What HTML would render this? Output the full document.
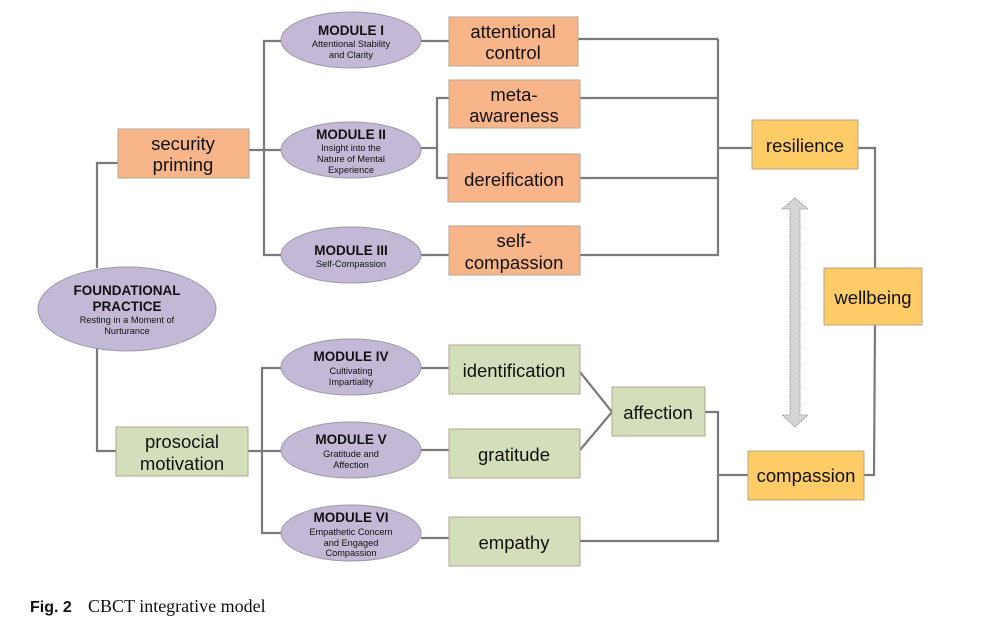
<!DOCTYPE html>
<html><head><meta charset="utf-8"><style>
html,body{margin:0;padding:0;background:#fff;width:1004px;height:628px;overflow:hidden}
svg{display:block}
.t{font-family:"Liberation Sans","DejaVu Sans",sans-serif;fill:#111;text-anchor:middle}
.b{font-size:18.5px}
.mh{font-size:13.5px;font-weight:bold}
.ms{font-size:9.2px}
</style></head><body>
<svg width="1004" height="628" viewBox="0 0 1004 628" xmlns="http://www.w3.org/2000/svg">
<g stroke="#7a7a7a" stroke-width="2.2" fill="none">
<polyline points="97,268 97,163 118,163"/>
<polyline points="97,348 97,451 116,451"/>
<line x1="249" y1="150" x2="282" y2="150"/>
<polyline points="282,41 264,41 264,255 281,255"/>
<line x1="421" y1="41" x2="449" y2="41"/>
<line x1="421" y1="148" x2="437" y2="148"/>
<polyline points="449,98 437,98 437,178 448,178"/>
<line x1="421" y1="255" x2="449" y2="255"/>
<line x1="578" y1="39" x2="718" y2="39"/>
<line x1="580" y1="98" x2="718" y2="98"/>
<line x1="580" y1="178" x2="718" y2="178"/>
<polyline points="580,255 718,255 718,39"/>
<line x1="718" y1="148" x2="752" y2="148"/>
<polyline points="858,148 875,148 875,268"/>
<polyline points="875,325 874,475 864,475"/>
<line x1="248" y1="451" x2="282" y2="451"/>
<polyline points="282,368 262,368 262,533 282,533"/>
<line x1="421" y1="368" x2="449" y2="368"/>
<line x1="421" y1="450" x2="449" y2="450"/>
<line x1="421" y1="538" x2="449" y2="538"/>
<polyline points="580,372 612,412 580,450"/>
<polyline points="705,412 718,412 718,541 580,541"/>
<line x1="718" y1="475" x2="748" y2="475"/>
</g>
<polygon points="795,198 808,209 800,209 800,415 808,415 795,427 782,415 790,415 790,209 782,209" fill="#d4d4d4" stroke="#999" stroke-width="1" stroke-dasharray="1.5,1"/>
<g fill="#c3b9d6" stroke="#9d97ab" stroke-width="1">
<ellipse cx="127" cy="309" rx="89" ry="42"/>
<ellipse cx="351" cy="40" rx="70" ry="28"/>
<ellipse cx="351" cy="150" rx="70" ry="28"/>
<ellipse cx="351" cy="255" rx="70" ry="28"/>
<ellipse cx="351" cy="367" rx="70" ry="28"/>
<ellipse cx="351" cy="450" rx="70" ry="28"/>
<ellipse cx="351" cy="533" rx="70" ry="28"/>
</g>
<g stroke="#b5a58f" stroke-width="1">
<rect x="118" y="129" width="131" height="49" fill="#f9b58a"/>
<rect x="449" y="17" width="129" height="49" fill="#f9b58a"/>
<rect x="449" y="80" width="131" height="48" fill="#f9b58a"/>
<rect x="448" y="154" width="132" height="48" fill="#f9b58a"/>
<rect x="449" y="226" width="131" height="49" fill="#f9b58a"/>
<rect x="116" y="427" width="132" height="49" fill="#d3dfbb"/>
<rect x="449" y="345" width="131" height="49" fill="#d3dfbb"/>
<rect x="449" y="429" width="131" height="49" fill="#d3dfbb"/>
<rect x="449" y="517" width="131" height="49" fill="#d3dfbb"/>
<rect x="612" y="387" width="93" height="49" fill="#d3dfbb"/>
<rect x="752" y="120" width="106" height="49" fill="#fecc66"/>
<rect x="824" y="268" width="98" height="57" fill="#fecc66"/>
<rect x="748" y="451" width="116" height="49" fill="#fecc66"/>
</g>
<g class="t">
<text class="b" x="183" y="150">security</text><text class="b" x="183" y="171">priming</text>
<text class="b" x="182" y="448">prosocial</text><text class="b" x="182" y="470">motivation</text>
<text class="b" x="513" y="38">attentional</text><text class="b" x="513" y="59">control</text>
<text class="b" x="514" y="101">meta-</text><text class="b" x="514" y="122">awareness</text>
<text class="b" x="514" y="186">dereification</text>
<text class="b" x="514" y="247">self-</text><text class="b" x="514" y="269">compassion</text>
<text class="b" x="514" y="377">identification</text>
<text class="b" x="514" y="461">gratitude</text>
<text class="b" x="514" y="549">empathy</text>
<text class="b" x="658" y="419">affection</text>
<text class="b" x="805" y="152">resilience</text>
<text class="b" x="873" y="304">wellbeing</text>
<text class="b" x="806" y="482">compassion</text>
<text class="mh" x="127" y="295">FOUNDATIONAL</text>
<text class="mh" x="127" y="311">PRACTICE</text>
<text class="ms" x="127" y="323">Resting in a Moment of</text>
<text class="ms" x="127" y="334">Nurturance</text>
<text class="mh" x="351" y="35">MODULE I</text>
<text class="ms" x="351" y="47">Attentional Stability</text>
<text class="ms" x="351" y="58">and Clarity</text>
<text class="mh" x="351" y="139">MODULE II</text>
<text class="ms" x="351" y="151">Insight into the</text>
<text class="ms" x="351" y="162">Nature of Mental</text>
<text class="ms" x="351" y="173">Experience</text>
<text class="mh" x="351" y="255">MODULE III</text>
<text class="ms" x="351" y="267">Self-Compassion</text>
<text class="mh" x="351" y="361">MODULE IV</text>
<text class="ms" x="351" y="374">Cultivating</text>
<text class="ms" x="351" y="385">Impartiality</text>
<text class="mh" x="351" y="444">MODULE V</text>
<text class="ms" x="351" y="457">Gratitude and</text>
<text class="ms" x="351" y="468">Affection</text>
<text class="mh" x="351" y="522">MODULE VI</text>
<text class="ms" x="351" y="535">Empathetic Concern</text>
<text class="ms" x="351" y="546">and Engaged</text>
<text class="ms" x="351" y="556">Compassion</text>
</g>
<text x="30" y="612" style="font-family:'Liberation Sans',sans-serif;font-weight:bold;font-size:16px;fill:#111">Fig. 2</text>
<text x="88" y="612" style="font-family:'Liberation Serif',serif;font-size:18px;fill:#111">CBCT integrative model</text>
</svg>
</body></html>
